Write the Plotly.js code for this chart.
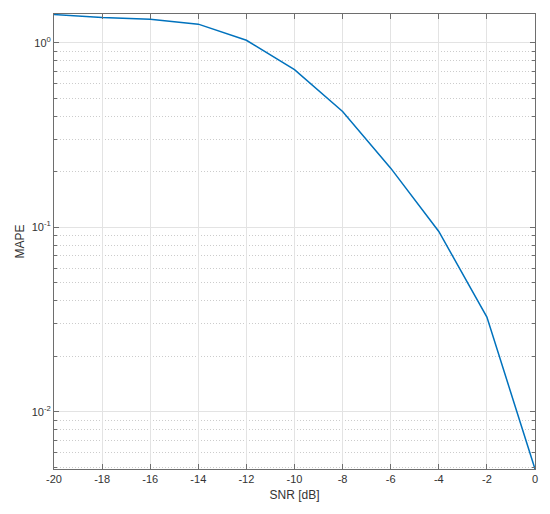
<!DOCTYPE html>
<html>
<head>
<meta charset="utf-8">
<script src="https://cdn.plot.ly/plotly-3.0.1.min.js"></script>
<style>html,body{margin:0;padding:0;background:#fff;}#chart{width:550px;height:514px;}</style>
</head>
<body>
<div id="chart"></div>
<script>
const snr = [-20, -18, -16, -14, -12, -10, -8, -6, -4, -2, 0];
const mape = [1.42, 1.37, 1.34, 1.26, 1.03, 0.714, 0.424, 0.209, 0.0949, 0.0326, 0.0049];
const xTicks = [-20, -18, -16, -14, -12, -10, -8, -6, -4, -2, 0];
const yTickVals = [0.01, 0.1, 1];
const yTickText = ['10<sup>-2</sup>', '10<sup>-1</sup>', '10<sup>0</sup>'];

const axisColor = '#6e6e6e';
const gridColor = '#e3e3e3';
const fontFam = 'Liberation Sans, Arial, Helvetica, sans-serif';

const trace = {
  x: snr, y: mape, type: 'scatter', mode: 'lines',
  line: {color: '#0072BD', width: 1.5},
  hoverinfo: 'skip'
};

const layout = {
  width: 550, height: 514,
  margin: {l: 54, r: 15, t: 14, b: 45},
  paper_bgcolor: '#fff', plot_bgcolor: '#fff',
  showlegend: false,
  font: {family: fontFam, size: 11, color: '#333333'},
  xaxis: {
    range: [-20, 0],
    tickvals: xTicks,
    ticktext: xTicks.map(String),
    ticks: 'inside', ticklen: 5, tickcolor: axisColor,
    showline: true, linecolor: axisColor, linewidth: 1, mirror: 'ticks',
    showgrid: true, gridcolor: gridColor, gridwidth: 1,
    zeroline: false,
    tickfont: {size: 11, color: '#333333'},
    title: {text: 'SNR [dB]', font: {size: 12, color: '#333333'}, standoff: 6}
  },
  yaxis: {
    type: 'log',
    range: [Math.log10(0.0049), Math.log10(1.43)],
    tickvals: yTickVals,
    ticktext: yTickText,
    ticks: 'inside', ticklen: 5, tickcolor: axisColor,
    showline: true, linecolor: axisColor, linewidth: 1, mirror: 'ticks',
    showgrid: true, gridcolor: gridColor, gridwidth: 1,
    zeroline: false,
    tickfont: {size: 11, color: '#333333'},
    minor: {
      dtick: 'D1',
      showgrid: true, griddash: '1px,2px', gridcolor: '#cccccc', gridwidth: 1,
      ticks: 'inside', ticklen: 3, tickcolor: axisColor
    },
    title: {text: 'MAPE', font: {size: 12, color: '#333333'}, standoff: 4}
  }
};

Plotly.newPlot('chart', [trace], layout, {displayModeBar: false, staticPlot: true});
</script>
</body>
</html>
